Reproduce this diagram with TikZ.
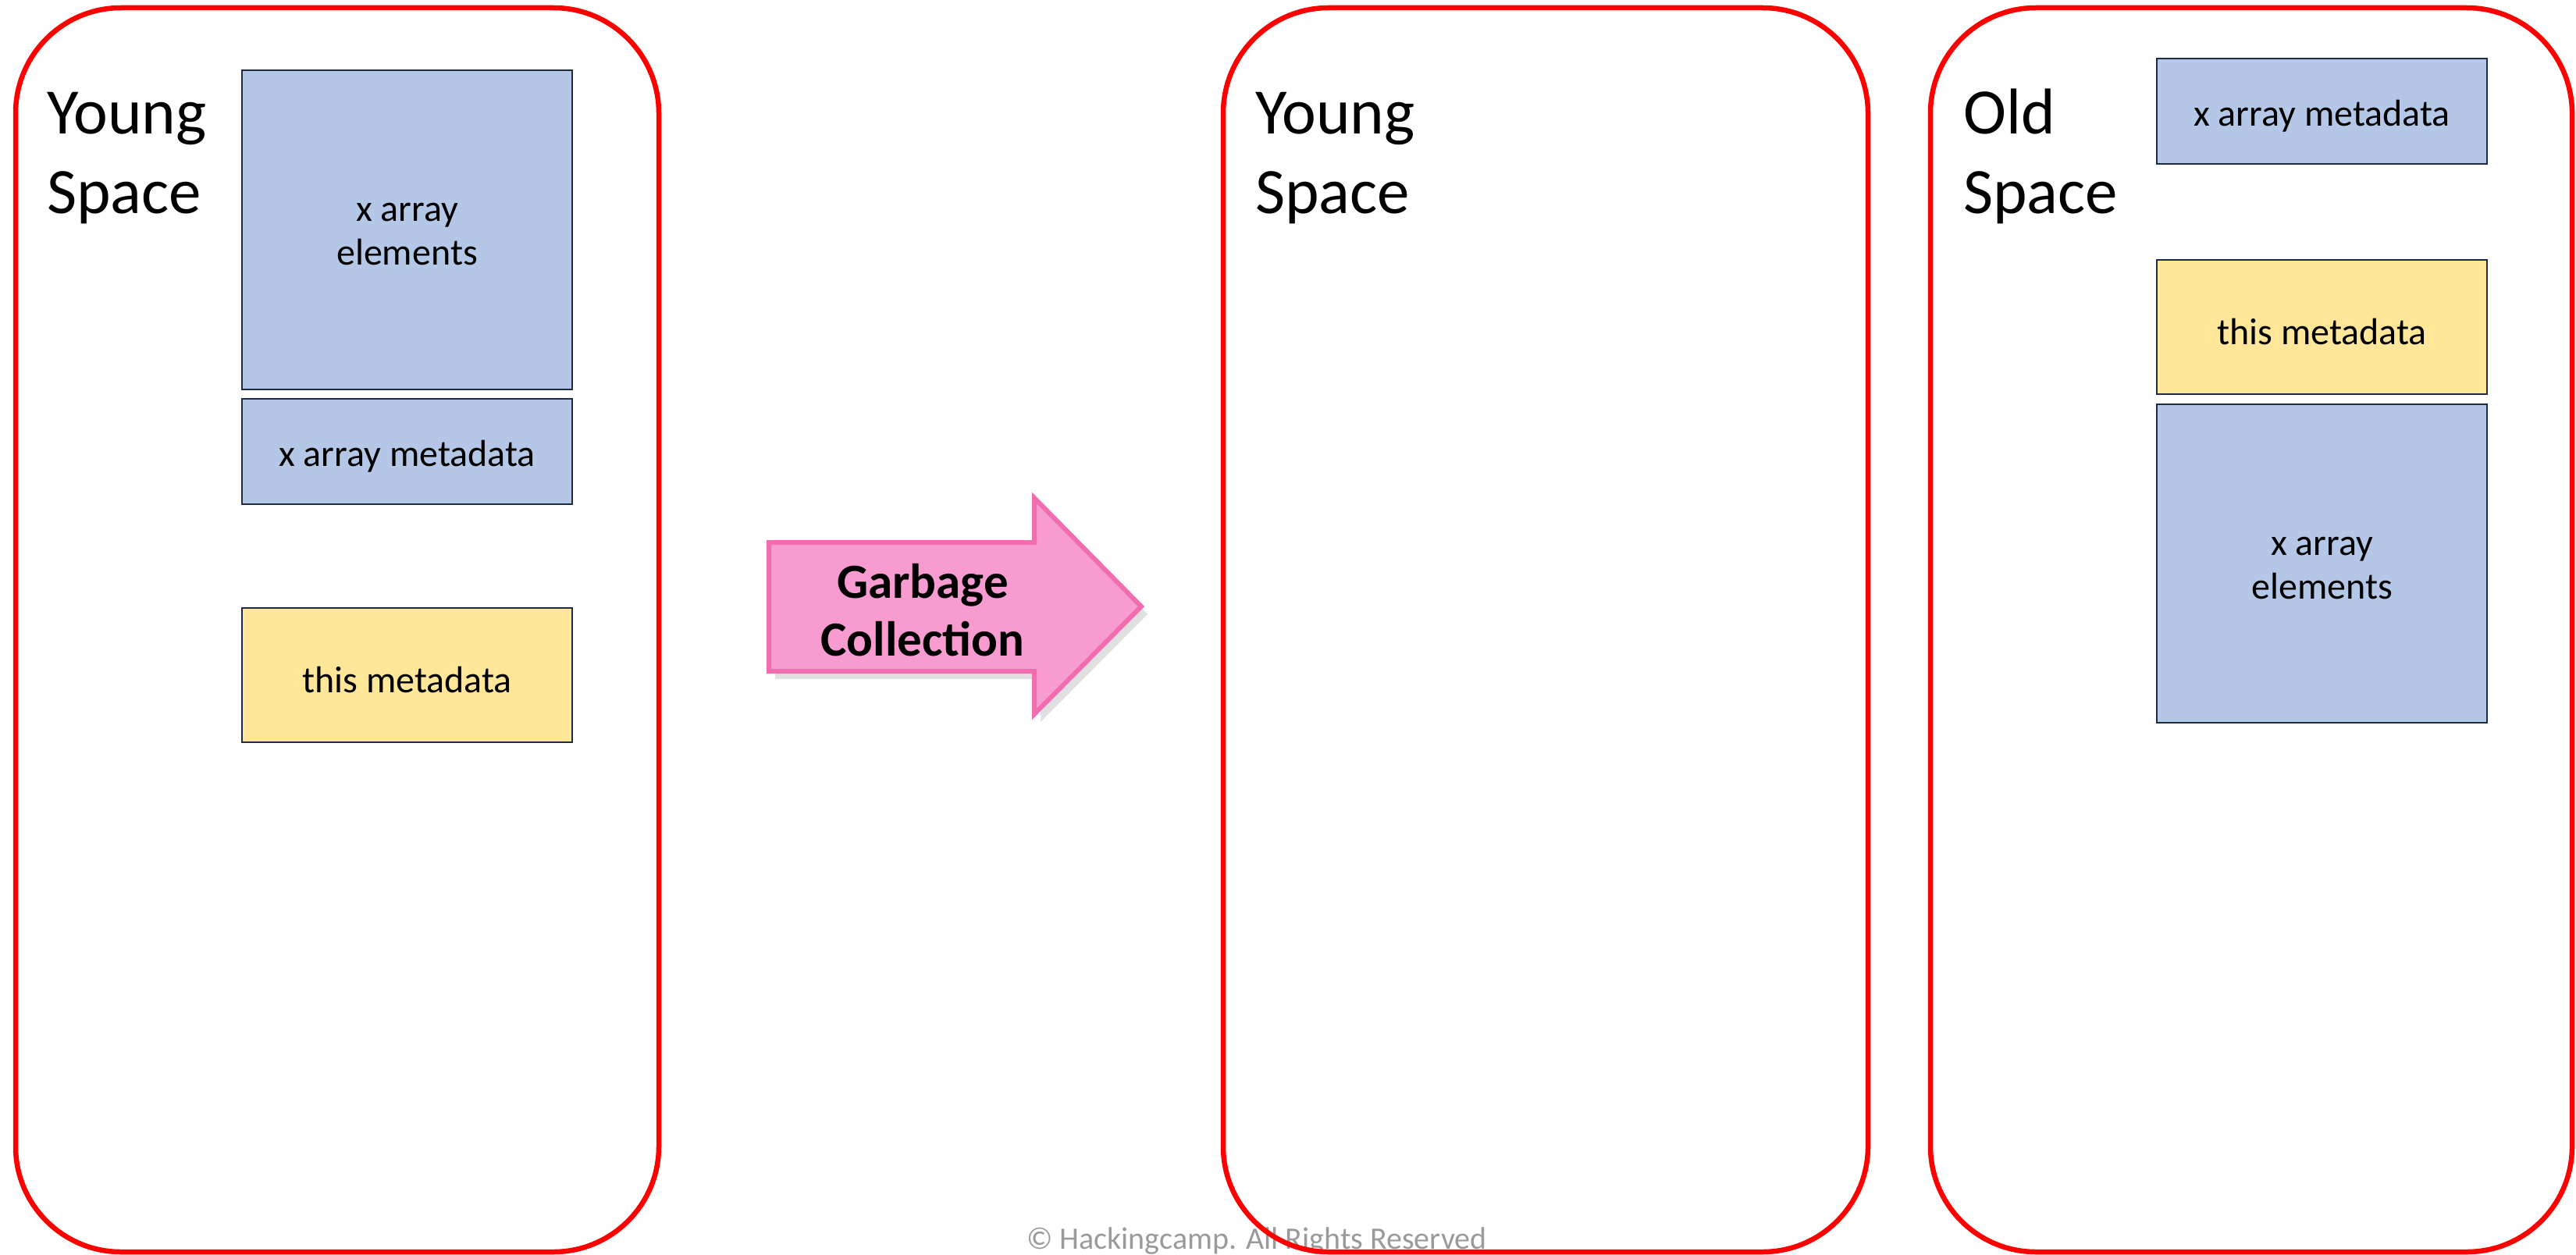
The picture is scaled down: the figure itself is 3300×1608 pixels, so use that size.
\documentclass[tikz,border=0pt]{standalone}
\usepackage{fontspec}
\setmainfont{Carlito}
\definecolor{boxblue}{HTML}{B4C7E7}
\definecolor{boxyellow}{HTML}{FFE699}
\definecolor{boxedge}{HTML}{1F2A44}
\definecolor{spacered}{HTML}{FF0000}
\definecolor{gcfill}{HTML}{F89BD0}
\definecolor{gcedge}{HTML}{F06EB0}
\definecolor{copygray}{HTML}{9A9A9A}
\begin{document}
\begin{tikzpicture}[x=1pt,y=-1pt,
  space/.style={draw=spacered, line width=6.5pt, rounded corners=135pt, rectangle, inner sep=0pt},
  blk/.style={draw=boxedge, line width=2pt, rectangle, inner sep=0pt, minimum width=423pt},
  blktext/.style={yshift=-6pt, align=center, inner sep=0pt, font=\fontsize{48}{56}\selectfont},
  blue/.style={blk, fill=boxblue},
  yellow/.style={blk, fill=boxyellow},
  title/.style={anchor=base west, inner sep=0pt, font=\fontsize{83}{100}\selectfont},
]
\useasboundingbox (0,0) rectangle (3300,1608);

% copyright (under the containers)
\node[anchor=base, inner sep=0pt, text=copygray, font=\fontsize{40}{48}\selectfont] (copy) at (1610,1600) {© Hackingcamp. All Rights Reserved};

% containers
\node[space, minimum width=824pt, minimum height=1594pt] (left) at (432,807) {};
\node[space, minimum width=826pt, minimum height=1594pt] (mid) at (1980,807) {};
\node[space, minimum width=822pt, minimum height=1594pt] (right) at (2884,807) {};

% titles
\node[title] (ly) at (60,172) {Young};
\node[title] (ls) at (60,273) {Space};
\node[title] (my) at (1608,172) {Young};
\node[title] (ms) at (1608,273) {Space};
\node[title] (ro) at (2515,172) {Old};
\node[title] (rs) at (2515,273) {Space};

% left blocks
\node[blue, minimum height=409pt, label={[blktext]center:x array\\elements}] (lel) at (521.5,294.5) {};
\node[blue, minimum height=135pt, label={[blktext]center:x array metadata}] (lmd) at (521.5,578.5) {};
\node[yellow, minimum height=172pt, label={[blktext]center:this metadata}] (lth) at (521.5,865) {};

% right blocks
\node[blue, minimum height=135pt, label={[blktext]center:x array metadata}] (rmd) at (2974.5,142.5) {};
\node[yellow, minimum height=172pt, label={[blktext]center:this metadata}] (rth) at (2974.5,419) {};
\node[blue, minimum height=408pt, label={[blktext]center:x array\\elements}] (rel) at (2974.5,722) {};

% garbage collection arrow
\fill[black!35, opacity=0.35] (993,705) -- (1333,705) -- (1333,648) -- (1470,787) -- (1333,925) -- (1333,870) -- (993,870) -- cycle;
\draw[draw=gcedge, fill=gcfill, line width=6pt, line join=miter]
  (985,695) -- (1325,695) -- (1325,638) -- (1462,777) -- (1325,915) -- (1325,860) -- (985,860) -- cycle;
\node[align=center, inner sep=0pt, font=\bfseries\fontsize{63}{74}\selectfont] (gc) at (1182,782) {Garbage\\Collection};
\end{tikzpicture}
\end{document}
